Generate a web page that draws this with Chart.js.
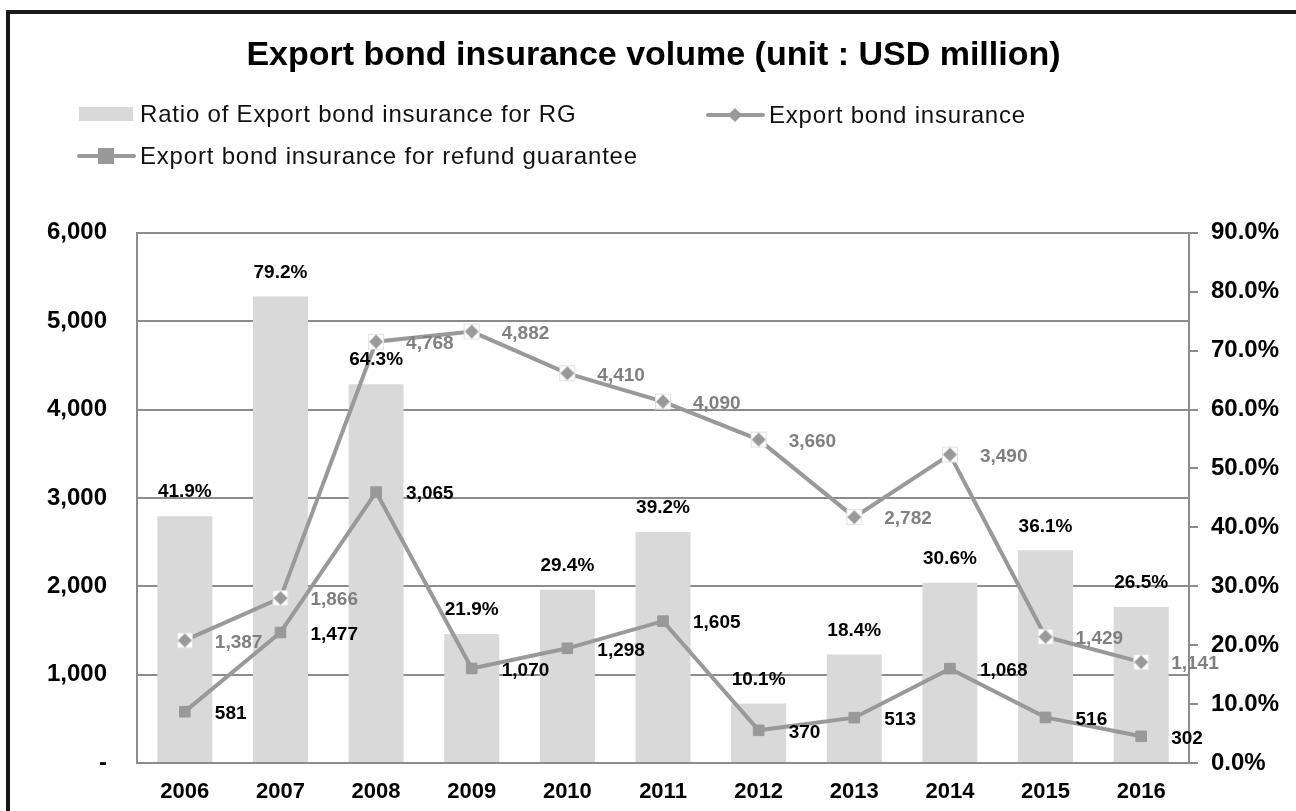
<!DOCTYPE html>
<html>
<head>
<meta charset="utf-8">
<script src="https://cdn.jsdelivr.net/npm/chart.js@4.4.1/dist/chart.umd.min.js"></script>
<style>
  html, body { margin: 0; padding: 0; background: #fff; overflow: hidden; }
  body { width: 1296px; height: 811px; position: relative; font-family: "Liberation Sans", Arial, sans-serif; }
  .frame { position: absolute; left: 6px; top: 10px; width: 1400px; height: 900px; border: 4px solid #1a1a1a; box-sizing: border-box; }
  #chartHolder { position: absolute; left: 0; top: 0; width: 1296px; height: 811px; }
  .legend-item { position: absolute; display: flex; align-items: center; height: 28px; line-height: 28px; font-size: 24px; letter-spacing: 0.8px; color: #111; white-space: nowrap; }
  .sym { position: relative; width: 59px; height: 20px; margin-right: 4px; }
  .sym .box { position: absolute; left: 2px; top: 3px; width: 54px; height: 14px; background: #d9d9d9; }
  .sym .line { position: absolute; left: 0; top: 8px; width: 59px; height: 4px; background: #999; border-radius: 2px; }
  .sym .sq { position: absolute; left: 21px; top: 2px; width: 16px; height: 16px; background: #999; }
  .sym .dia { position: absolute; left: 24px; top: 5px; width: 10px; height: 10px; background: #999; transform: rotate(45deg); }
</style>
</head>
<body>
<div class="frame"></div>
<div id="chartHolder"><canvas id="bondChart" width="1296" height="811"></canvas></div>
<div class="legend-item" style="left:77px; top:100px;"><span class="sym"><span class="box"></span></span>Ratio of Export bond insurance for RG</div>
<div class="legend-item" style="left:706px; top:101px;"><span class="sym"><span class="line"></span><span class="dia"></span></span>Export bond insurance</div>
<div class="legend-item" style="left:77px; top:142px;"><span class="sym"><span class="line"></span><span class="sq"></span></span>Export bond insurance for refund guarantee</div>
<script>
// Yearly figures, USD million
const years = ['2006', '2007', '2008', '2009', '2010', '2011', '2012', '2013', '2014', '2015', '2016'];
const exportBond = [1387, 1866, 4768, 4882, 4410, 4090, 3660, 2782, 3490, 1429, 1141];
const refundGuarantee = [581, 1477, 3065, 1070, 1298, 1605, 370, 513, 1068, 516, 302];
// Share of refund guarantee in export bond insurance, %
const rgRatio = [41.9, 79.2, 64.3, 21.9, 29.4, 39.2, 10.1, 18.4, 30.6, 36.1, 26.5];

const FONT = '"Liberation Sans", Arial, sans-serif';
const LINE_GRAY = '#999999';
const GRID_GRAY = '#8c8c8c';

// Diamond marker sitting on a small white square
function diamondMarker() {
    const c = document.createElement('canvas');
    c.width = 18;
    c.height = 18;
    const ctx = c.getContext('2d');
    ctx.fillStyle = '#fff';
    ctx.fillRect(1, 1, 16, 16);
    ctx.strokeStyle = '#e0e0e0';
    ctx.lineWidth = 1;
    ctx.strokeRect(1.5, 1.5, 15, 15);
    ctx.fillStyle = LINE_GRAY;
    ctx.beginPath();
    ctx.moveTo(9, 2);
    ctx.lineTo(16, 9);
    ctx.lineTo(9, 16);
    ctx.lineTo(2, 9);
    ctx.closePath();
    ctx.fill();
    return c;
}

// Draws value labels next to points and above bars
const valueLabels = {
    id: 'valueLabels',
    afterDatasetsDraw(chart) {
        const ctx = chart.ctx;
        ctx.save();
        ctx.font = 'bold 19px ' + FONT;
        ctx.textBaseline = 'middle';
        chart.data.datasets.forEach((ds, i) => {
            const meta = chart.getDatasetMeta(i);
            meta.data.forEach((el, j) => {
                const v = ds.data[j];
                if (ds.type === 'bar') {
                    ctx.fillStyle = '#000';
                    ctx.textAlign = 'center';
                    ctx.fillText(v.toFixed(1) + '%', el.x, el.y - 24);
                } else {
                    ctx.fillStyle = ds.labelColor;
                    ctx.textAlign = 'left';
                    ctx.fillText(v.toLocaleString('en-US'), el.x + 30, el.y + 2);
                }
            });
        });
        ctx.restore();
    }
};

const config = {
    data: {
        labels: years,
        datasets: [
            {
                type: 'line',
                label: 'Export bond insurance for refund guarantee',
                data: refundGuarantee,
                yAxisID: 'y',
                borderColor: LINE_GRAY,
                borderWidth: 4,
                pointStyle: 'rect',
                pointRadius: 7.5,
                pointBackgroundColor: LINE_GRAY,
                pointBorderColor: LINE_GRAY,
                pointBorderWidth: 1,
                labelColor: '#000',
                order: 1
            },
            {
                type: 'line',
                label: 'Export bond insurance',
                data: exportBond,
                yAxisID: 'y',
                borderColor: LINE_GRAY,
                borderWidth: 4,
                pointStyle: diamondMarker(),
                pointRadius: 9,
                labelColor: '#808080',
                order: 2
            },
            {
                type: 'bar',
                label: 'Ratio of Export bond insurance for RG',
                data: rgRatio,
                yAxisID: 'y1',
                backgroundColor: '#d9d9d9',
                barPercentage: 0.575,
                categoryPercentage: 1,
                order: 3
            }
        ]
    },
    options: {
        responsive: false,
        animation: false,
        layout: {
            padding: { top: 20, left: 11, right: 0, bottom: 0 }
        },
        scales: {
            x: {
                grid: { display: false },
                border: { color: GRID_GRAY, width: 2 },
                ticks: { color: '#000', font: { family: FONT, size: 22, weight: 'bold' }, padding: 8 },
                afterFit: (scale) => { scale.height = 811 - 763; }
            },
            y: {
                position: 'left',
                min: 0,
                max: 6000,
                border: { color: GRID_GRAY, width: 2 },
                grid: { color: GRID_GRAY, lineWidth: 2, drawTicks: false },
                ticks: {
                    stepSize: 1000,
                    padding: 30,
                    color: '#000',
                    font: { family: FONT, size: 24, weight: 'bold' },
                    callback: (value) => value === 0 ? '-' : value.toLocaleString('en-US')
                },
                afterFit: (scale) => { scale.width = 137 - 11; }
            },
            y1: {
                position: 'right',
                min: 0,
                max: 90,
                border: { color: GRID_GRAY, width: 2 },
                grid: { drawOnChartArea: false, color: GRID_GRAY, lineWidth: 2, tickLength: 9 },
                ticks: {
                    stepSize: 10,
                    padding: 13,
                    color: '#000',
                    font: { family: FONT, size: 24, weight: 'bold' },
                    callback: (value) => value.toFixed(1) + '%'
                },
                afterFit: (scale) => { scale.width = 1296 - 1189; }
            }
        },
        plugins: {
            legend: { display: false },
            tooltip: { enabled: false },
            title: {
                display: true,
                text: 'Export bond insurance volume (unit : USD million)',
                color: '#000',
                font: { family: FONT, size: 34, weight: 'bold' },
                padding: { top: 15, bottom: 157 }
            }
        }
    },
    plugins: [valueLabels]
};

new Chart(document.getElementById('bondChart').getContext('2d'), config);
</script>
</body>
</html>
